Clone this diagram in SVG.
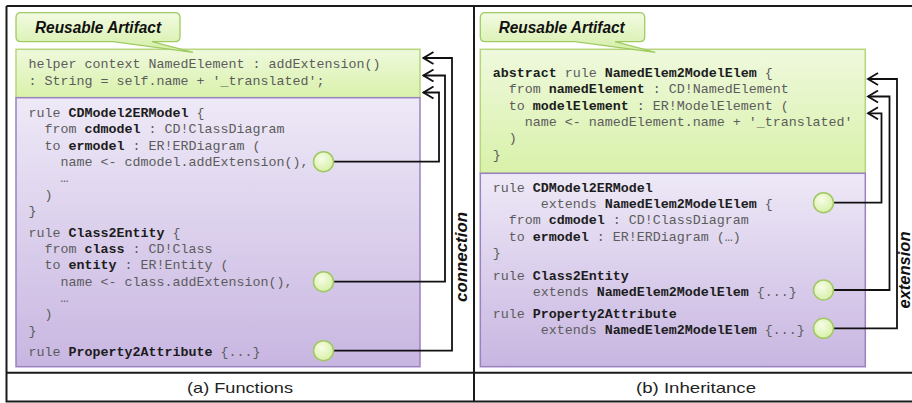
<svg xmlns="http://www.w3.org/2000/svg" width="912" height="403" viewBox="0 0 912 403">
<defs>
<linearGradient id="gGreen" x1="0" y1="0" x2="0" y2="1"><stop offset="0" stop-color="#eff9dd"/><stop offset="1" stop-color="#d8f1a9"/></linearGradient>
<linearGradient id="gCall" x1="0" y1="0" x2="0" y2="1"><stop offset="0" stop-color="#f3fbe3"/><stop offset="1" stop-color="#d4eea6"/></linearGradient>
<linearGradient id="gPurple" x1="0" y1="0" x2="0" y2="1"><stop offset="0" stop-color="#eee9f7"/><stop offset="1" stop-color="#c8b6e1"/></linearGradient>
<radialGradient id="gDot" cx="0.4" cy="0.35" r="0.7"><stop offset="0" stop-color="#f6fde6"/><stop offset="1" stop-color="#d6efa4"/></radialGradient>
<marker id="chev" viewBox="-12 -7 14 14" refX="0" refY="0" markerWidth="14" markerHeight="14" markerUnits="userSpaceOnUse" orient="auto">
<path d="M-10,-6 L0,0 L-10,6" fill="none" stroke="#111" stroke-width="1.8"/>
</marker>
</defs>
<style>
.frame{fill:none;stroke:#1a1a1a;stroke-width:2}
.green{fill:url(#gGreen);stroke:#b4d67c;stroke-width:1.5}
.purple{fill:url(#gPurple);stroke:#9a82c0;stroke-width:1.5}
.call{fill:url(#gCall);stroke:#9fcb62;stroke-width:1.3}
.calltxt{font-family:"Liberation Sans",Arial,sans-serif;font-weight:bold;font-style:italic;font-size:16px;fill:#111}
.code{font-family:"Liberation Mono","Courier New",monospace;font-size:13.33px;fill:#5c5c5c}
.b{font-weight:bold;fill:#1c1c1c}
.dot{fill:url(#gDot);stroke:#a2c865;stroke-width:1.5}
.conn{fill:none;stroke:#111;stroke-width:1.8;marker-end:url(#chev)}
.lbl{font-family:"Liberation Sans",Arial,sans-serif;font-weight:bold;font-style:italic;font-size:16px;fill:#111}
.cap{font-family:"Liberation Sans",Arial,sans-serif;font-size:15px;fill:#222}
</style>
<rect x="0" y="0" width="912" height="403" fill="#ffffff"/>

<g id="frame">
<path class="frame" d="M6.5,6 H914 M6.5,6 V401.5 H914 M6.5,372.7 H914 M474,6 V401.5"/>
<text class="cap" x="240" y="393" text-anchor="middle" textLength="106" lengthAdjust="spacingAndGlyphs">(a) Functions</text>
<text class="cap" x="696" y="393" text-anchor="middle" textLength="120" lengthAdjust="spacingAndGlyphs">(b) Inheritance</text>
</g>

<g id="left-helper">
<rect class="green" x="16" y="49.3" width="404" height="48.4"/>
<text class="code" y="68"><tspan x="28.5">helper context NamedElement : addExtension()</tspan></text>
<text class="code" y="84.5"><tspan x="28.5">: String = self.name + '_translated';</tspan></text>
</g>

<g id="left-rules">
<rect class="purple" x="16" y="97.7" width="404" height="269"/>
<text class="code" x="28.5" y="117">rule <tspan class="b">CDModel2ERModel</tspan> {</text>
<text class="code" x="44.5" y="133.3">from <tspan class="b">cdmodel</tspan> : CD!ClassDiagram</text>
<text class="code" x="44.5" y="149.6">to <tspan class="b">ermodel</tspan> : ER!ERDiagram (</text>
<text class="code" x="60.5" y="165.9">name &lt;- cdmodel.addExtension(),</text>
<text class="code" x="60.5" y="182.2">…</text>
<text class="code" x="44.5" y="198.5">)</text>
<text class="code" x="28.5" y="214.8">}</text>
<text class="code" x="28.5" y="236.8">rule <tspan class="b">Class2Entity</tspan> {</text>
<text class="code" x="44.5" y="253.1">from <tspan class="b">class</tspan> : CD!Class</text>
<text class="code" x="44.5" y="269.4">to <tspan class="b">entity</tspan> : ER!Entity (</text>
<text class="code" x="60.5" y="285.7">name &lt;- class.addExtension(),</text>
<text class="code" x="60.5" y="302">…</text>
<text class="code" x="44.5" y="318.3">)</text>
<text class="code" x="28.5" y="334.6">}</text>
<text class="code" x="28.5" y="356">rule <tspan class="b">Property2Attribute</tspan> {...}</text>
</g>

<g id="left-callout">
<path class="call" d="M21,12.7 H175 Q180,12.7 180,17.7 V36.7 Q180,41.7 175,41.7 H152 L193,52.3 L113,41.7 H21 Q16,41.7 16,36.7 V17.7 Q16,12.7 21,12.7 Z"/>
<text class="calltxt" x="35" y="33" textLength="126" lengthAdjust="spacingAndGlyphs">Reusable Artifact</text>
</g>

<g id="right-abstract">
<rect class="green" x="480.3" y="49.3" width="385" height="124"/>
<text class="code" x="492.7" y="77"><tspan class="b">abstract</tspan> rule <tspan class="b">NamedElem2ModelElem</tspan> {</text>
<text class="code" x="508.7" y="93.3">from <tspan class="b">namedElement</tspan> : CD!NamedElement</text>
<text class="code" x="508.7" y="109.6">to <tspan class="b">modelElement</tspan> : ER!ModelElement (</text>
<text class="code" x="524.7" y="125.9">name &lt;- namedElement.name + '_translated'</text>
<text class="code" x="508.7" y="142.2">)</text>
<text class="code" x="492.7" y="158.5">}</text>
</g>

<g id="right-rules">
<rect class="purple" x="480.3" y="173.3" width="385" height="193.4"/>
<text class="code" x="492.7" y="191.8">rule <tspan class="b">CDModel2ERModel</tspan></text>
<text class="code" x="540.7" y="208.1">extends <tspan class="b">NamedElem2ModelElem</tspan> {</text>
<text class="code" x="508.7" y="224.4">from <tspan class="b">cdmodel</tspan> : CD!ClassDiagram</text>
<text class="code" x="508.7" y="240.7">to <tspan class="b">ermodel</tspan> : ER!ERDiagram (…)</text>
<text class="code" x="492.7" y="257">}</text>
<text class="code" x="492.7" y="279.5">rule <tspan class="b">Class2Entity</tspan></text>
<text class="code" x="532.7" y="296">extends <tspan class="b">NamedElem2ModelElem</tspan> {...}</text>
<text class="code" x="492.7" y="317.8">rule <tspan class="b">Property2Attribute</tspan></text>
<text class="code" x="540.7" y="334">extends <tspan class="b">NamedElem2ModelElem</tspan> {...}</text>
</g>

<g id="right-callout">
<path class="call" d="M485.3,12.7 H639.7 Q644.7,12.7 644.7,17.7 V36.7 Q644.7,41.7 639.7,41.7 H615 L655.3,52.3 L575,41.7 H485.3 Q480.3,41.7 480.3,36.7 V17.7 Q480.3,12.7 485.3,12.7 Z"/>
<text class="calltxt" x="498.7" y="33" textLength="126" lengthAdjust="spacingAndGlyphs">Reusable Artifact</text>
</g>

<g id="connectors">
<path class="conn" d="M333.5,161.7 H439 V92.5 H423.5"/>
<path class="conn" d="M333.5,281.7 H445 V75.5 H423.5"/>
<path class="conn" d="M333.5,350.7 H452 V58 H423.5"/>
<path class="conn" d="M833.5,202.7 H881.5 V113.3 H868"/>
<path class="conn" d="M833.5,290 H889.5 V96.5 H868"/>
<path class="conn" d="M833.5,328.3 H897 V79 H868"/>
</g>

<g id="ports">
<circle class="dot" cx="323.5" cy="161.7" r="10"/>
<circle class="dot" cx="323.5" cy="281.7" r="10"/>
<circle class="dot" cx="323.5" cy="350.7" r="10"/>
<circle class="dot" cx="823.5" cy="202.7" r="10"/>
<circle class="dot" cx="823.5" cy="290" r="10"/>
<circle class="dot" cx="823.5" cy="328.3" r="10"/>
</g>

<g id="labels">
<text class="lbl" transform="translate(467,257) rotate(-90)" text-anchor="middle" textLength="90" lengthAdjust="spacingAndGlyphs">connection</text>
<text class="lbl" transform="translate(910,270) rotate(-90)" text-anchor="middle" textLength="77" lengthAdjust="spacingAndGlyphs">extension</text>
</g>
</svg>
